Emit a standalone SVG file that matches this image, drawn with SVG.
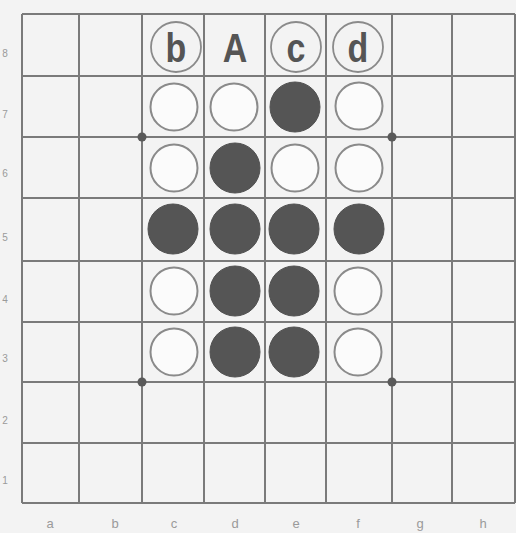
<svg xmlns="http://www.w3.org/2000/svg" width="516" height="533" viewBox="0 0 516 533">
<style>
.grid line{stroke:#7a7a7a;stroke-width:2}
.w{fill:#fbfbfb;stroke:#8a8a8a;stroke-width:2}
.b{fill:#555;stroke:#505050;stroke-width:1}
.lab{font-family:"Liberation Sans",Arial,sans-serif;fill:#9a9a9a;text-anchor:middle}
.big{font-family:"Liberation Sans",Arial,sans-serif;font-weight:bold;fill:#555;text-anchor:middle;font-size:40px}
.ring{fill:none;stroke:#8a8a8a;stroke-width:1.8}
.dot{fill:#5a5a5a}
</style>
<rect width="516" height="533" fill="#f3f3f3"/>
<g id="board" class="grid">
<line x1="22" y1="14" x2="515" y2="14"/>
<line x1="22" y1="76" x2="515" y2="76"/>
<line x1="22" y1="137" x2="515" y2="137"/>
<line x1="22" y1="198" x2="515" y2="198"/>
<line x1="22" y1="261" x2="515" y2="261"/>
<line x1="22" y1="322" x2="515" y2="322"/>
<line x1="22" y1="382" x2="515" y2="382"/>
<line x1="22" y1="443" x2="515" y2="443"/>
<line x1="22" y1="503" x2="515" y2="503"/>
<line x1="22" y1="14" x2="22" y2="503"/>
<line x1="79" y1="14" x2="79" y2="503"/>
<line x1="142" y1="14" x2="142" y2="503"/>
<line x1="204" y1="14" x2="204" y2="503"/>
<line x1="265" y1="14" x2="265" y2="503"/>
<line x1="326" y1="14" x2="326" y2="503"/>
<line x1="392" y1="14" x2="392" y2="503"/>
<line x1="452" y1="14" x2="452" y2="503"/>
<line x1="515" y1="14" x2="515" y2="503"/>
</g>
<g id="stars">
<circle class="dot" cx="142" cy="137" r="4.5"/>
<circle class="dot" cx="392" cy="137" r="4.5"/>
<circle class="dot" cx="142" cy="382" r="4.5"/>
<circle class="dot" cx="392" cy="382" r="4.5"/>
</g>
<g id="row-labels" class="lab" font-size="10">
<text x="5" y="57">8</text>
<text x="5" y="118">7</text>
<text x="5" y="177">6</text>
<text x="5" y="241">5</text>
<text x="5" y="303">4</text>
<text x="5" y="362">3</text>
<text x="5" y="424">2</text>
<text x="5" y="484">1</text>
</g>
<g id="col-labels" class="lab" font-size="13">
<text x="50" y="528">a</text>
<text x="115" y="528">b</text>
<text x="174" y="528">c</text>
<text x="235" y="528">d</text>
<text x="296" y="528">e</text>
<text x="358" y="528">f</text>
<text x="420" y="528">g</text>
<text x="483" y="528">h</text>
</g>
<g id="marks">
<g id="mark-b"><circle class="ring" cx="176" cy="47" r="25"/><text class="big" x="176" y="62" transform="translate(176 0) scale(0.85 1) translate(-176 0)">b</text></g>
<g id="mark-A"><text class="big" x="235" y="62" transform="translate(235 0) scale(0.85 1) translate(-235 0)">A</text></g>
<g id="mark-c"><circle class="ring" cx="296" cy="47" r="25"/><text class="big" x="296" y="62" transform="translate(296 0) scale(0.85 1) translate(-296 0)">c</text></g>
<g id="mark-d"><circle class="ring" cx="358" cy="47" r="25"/><text class="big" x="358" y="62" transform="translate(358 0) scale(0.85 1) translate(-358 0)">d</text></g>
</g>
<g id="pieces">
<circle id="c7" class="w" cx="174" cy="107" r="23.5"/>
<circle id="d7" class="w" cx="234" cy="107" r="23.5"/>
<circle id="e7" class="b" cx="295" cy="107" r="25"/>
<circle id="f7" class="w" cx="359" cy="106" r="23.5"/>
<circle id="c6" class="w" cx="174" cy="168" r="23.5"/>
<circle id="d6" class="b" cx="235" cy="168" r="25"/>
<circle id="e6" class="w" cx="295" cy="168" r="23.5"/>
<circle id="f6" class="w" cx="359" cy="168" r="23.5"/>
<circle id="c5" class="b" cx="173" cy="229" r="25"/>
<circle id="d5" class="b" cx="235" cy="229" r="25"/>
<circle id="e5" class="b" cx="294" cy="229" r="25"/>
<circle id="f5" class="b" cx="359" cy="229" r="25"/>
<circle id="c4" class="w" cx="174" cy="291" r="23.5"/>
<circle id="d4" class="b" cx="235" cy="291" r="25"/>
<circle id="e4" class="b" cx="294" cy="291" r="25"/>
<circle id="f4" class="w" cx="358" cy="291" r="23.5"/>
<circle id="c3" class="w" cx="174" cy="352" r="23.5"/>
<circle id="d3" class="b" cx="235" cy="352" r="25"/>
<circle id="e3" class="b" cx="294" cy="352" r="25"/>
<circle id="f3" class="w" cx="358" cy="352" r="23.5"/>
</g>
</svg>
